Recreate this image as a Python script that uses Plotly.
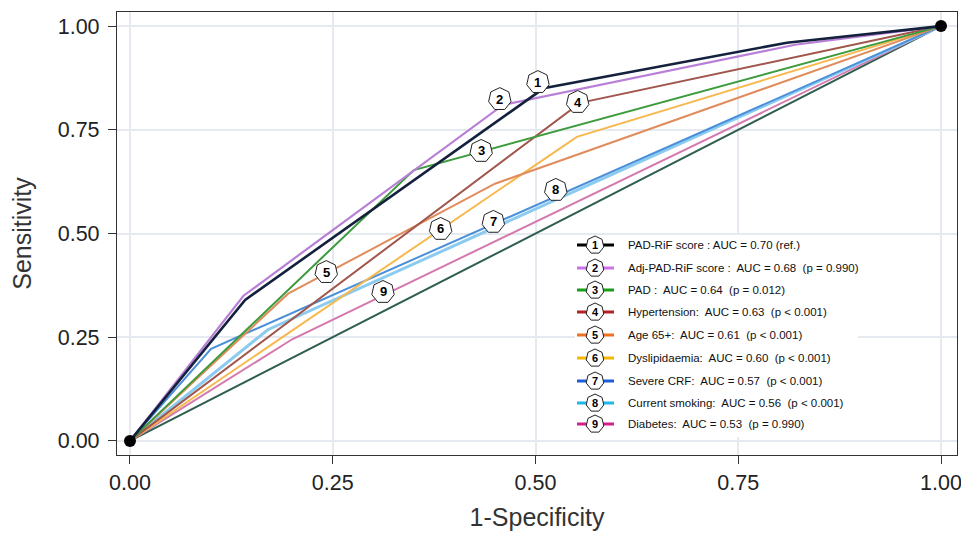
import math
import plotly.graph_objects as go

# ---------------- data ----------------
names = ["PAD-RiF score", "Adj-PAD-RiF score", "PAD", "Hypertension", "Age 65+",
         "Dyslipidaemia", "Severe CRF", "Current smoking", "Diabetes"]
legend_texts = [
    "PAD-RiF score : AUC = 0.70 (ref.)",
    "Adj-PAD-RiF score :  AUC = 0.68  (p = 0.990)",
    "PAD :  AUC = 0.64  (p = 0.012)",
    "Hypertension:  AUC = 0.63  (p < 0.001)",
    "Age 65+:  AUC = 0.61  (p < 0.001)",
    "Dyslipidaemia:  AUC = 0.60  (p < 0.001)",
    "Severe CRF:  AUC = 0.57  (p < 0.001)",
    "Current smoking:  AUC = 0.56  (p < 0.001)",
    "Diabetes:  AUC = 0.53  (p = 0.990)",
]
fpr_1 = [0, 0.142, 0.51, 0.81, 1]
tpr_1 = [0, 0.34, 0.85, 0.96, 1]
fpr_2 = [0, 0.14, 0.46, 0.82, 1]
tpr_2 = [0, 0.35, 0.81, 0.955, 1]
fpr_3 = [0, 0.35, 1]
tpr_3 = [0, 0.653, 1]
fpr_4 = [0, 0.555, 1]
tpr_4 = [0, 0.815, 1]
fpr_5 = [0, 0.195, 0.45, 1]
tpr_5 = [0, 0.355, 0.62, 1]
fpr_6 = [0, 0.551, 1]
tpr_6 = [0, 0.733, 1]
fpr_7 = [0, 0.10, 1]
tpr_7 = [0, 0.222, 1]
fpr_8 = [0, 0.17, 1]
tpr_8 = [0, 0.268, 1]
fpr_9 = [0, 0.20, 1]
tpr_9 = [0, 0.245, 1]
fpr_ref = [0, 1]
tpr_ref = [0, 1]
endpoints_x = [0, 1]
endpoints_y = [0, 1]
x_ticks = [0, 0.25, 0.5, 0.75, 1]
x_tick_labels = ["0.00", "0.25", "0.50", "0.75", "1.00"]
y_ticks = [0, 0.25, 0.5, 0.75, 1]
y_tick_labels = ["0.00", "0.25", "0.50", "0.75", "1.00"]
# curve label (numbered badge) positions in data space
label_x = [0.503, 0.456, 0.433, 0.552, 0.242, 0.383, 0.448, 0.525, 0.312]
label_y = [0.865, 0.824, 0.699, 0.817, 0.407, 0.511, 0.528, 0.605, 0.359]

fprs = [fpr_1, fpr_2, fpr_3, fpr_4, fpr_5, fpr_6, fpr_7, fpr_8, fpr_9]
tprs = [tpr_1, tpr_2, tpr_3, tpr_4, tpr_5, tpr_6, tpr_7, tpr_8, tpr_9]

# ---------------- styles ----------------
line_colors = ["#14213D", "#B77FD6", "#3C9B3C", "#A0564C", "#E08C5C",
               "#F7B84E", "#4A8FDA", "#8CCBF0", "#D479AE"]
line_widths = [2.6, 2.2, 2.0, 2.0, 2.0, 2.0, 2.0, 3.0, 2.0]
legend_colors = ["#000000", "#D070E8", "#18A018", "#B22222", "#F07020",
                 "#F8B800", "#1E5FD8", "#20B8E8", "#D0208A"]
ref_color = "#2E5E50"
FONT = "Liberation Sans, Arial, sans-serif"

W, H = 969, 535
BODY = 8  # default page margin of the html body
# frame of the plot area as seen in the window
FL, FR, FT, FB = 117, 957, 12, 455
ML, MT = FL - BODY, FT - BODY
PW, PH = FR - FL, FB - FT
MR, MB = W - ML - PW, H - MT - PH


def px_to_paper(px, py):
    return (px - FL) / PW, (FB - py) / PH


def heptagon_path(r):
    pts = []
    for k in range(7):
        a = math.pi / 2 + 2 * math.pi * k / 7
        pts.append((r * math.cos(a), r * math.sin(a)))
    return "M " + " L ".join(f"{x:.2f},{y:.2f}" for x, y in pts) + " Z"


fig = go.Figure()

fig.add_trace(go.Scatter(x=fpr_ref, y=tpr_ref, mode="lines",
                         line=dict(color=ref_color, width=2), showlegend=False,
                         hoverinfo="skip"))
for i in reversed(range(len(names))):
    fig.add_trace(go.Scatter(x=fprs[i], y=tprs[i], mode="lines", name=names[i],
                             line=dict(color=line_colors[i], width=line_widths[i]),
                             showlegend=False))
fig.add_trace(go.Scatter(x=endpoints_x, y=endpoints_y, mode="markers",
                         marker=dict(color="black", size=12), showlegend=False,
                         cliponaxis=False))

shapes = []
annotations = []
hp = heptagon_path(11.5)
for i in range(len(names)):
    shapes.append(dict(type="path", xref="x", yref="y", xsizemode="pixel",
                       ysizemode="pixel", xanchor=label_x[i], yanchor=label_y[i],
                       path=hp, fillcolor="white", line=dict(color="#222", width=1),
                       layer="above"))
    annotations.append(dict(x=label_x[i], y=label_y[i], xref="x", yref="y",
                            text=f"<b>{i + 1}</b>", showarrow=False,
                            font=dict(family=FONT, size=13, color="black"),
                            xanchor="center", yanchor="middle"))

# custom legend box
bx0, by0 = px_to_paper(575, 437)
bx1, by1 = px_to_paper(858, 235)
shapes.append(dict(type="rect", xref="paper", yref="paper", x0=bx0, y0=by0,
                   x1=bx1, y1=by1, fillcolor="white", line=dict(width=0),
                   layer="above"))
row_y = [245, 268, 290, 312, 335, 358, 381, 403, 424]
hp_leg = heptagon_path(9)
for i in range(len(names)):
    lx0, ly = px_to_paper(577, row_y[i])
    lx1, _ = px_to_paper(614, row_y[i])
    cx, _ = px_to_paper(595, row_y[i])
    tx, _ = px_to_paper(626, row_y[i])
    shapes.append(dict(type="line", xref="paper", yref="paper", x0=lx0, x1=lx1,
                       y0=ly, y1=ly, line=dict(color=legend_colors[i], width=3),
                       layer="above"))
    shapes.append(dict(type="path", xref="paper", yref="paper", xsizemode="pixel",
                       ysizemode="pixel", xanchor=cx, yanchor=ly, path=hp_leg,
                       fillcolor="white", line=dict(color="#222", width=1),
                       layer="above"))
    annotations.append(dict(x=cx, y=ly, xref="paper", yref="paper",
                            text=f"<b>{i + 1}</b>", showarrow=False,
                            font=dict(family=FONT, size=11, color="black"),
                            xanchor="center", yanchor="middle"))
    annotations.append(dict(x=tx, y=ly, xref="paper", yref="paper",
                            text=legend_texts[i], showarrow=False,
                            font=dict(family=FONT, size=11.5, color="#111"),
                            xanchor="left", yanchor="middle"))

axis_common = dict(showline=True, mirror=True, linecolor="#333", linewidth=1.2,
                   ticks="outside", ticklen=8, tickcolor="#333", tickwidth=1.2,
                   showgrid=True, gridcolor="#E4EAF0", gridwidth=1.5,
                   zeroline=False, automargin=False,
                   tickfont=dict(family=FONT, size=21.5, color="#222"))

fig.update_layout(
    width=W, height=H,
    margin=dict(l=ML, r=MR, t=MT, b=MB, autoexpand=False),
    paper_bgcolor="white", plot_bgcolor="white",
    shapes=shapes, annotations=annotations,
    xaxis=dict(range=[-0.016, 1.0197], tickvals=x_ticks, ticktext=x_tick_labels,
               title=dict(text="1-Specificity", font=dict(family=FONT, size=25, color="#333"),
                          standoff=14),
               **axis_common),
    yaxis=dict(range=[-0.034, 1.034], tickvals=y_ticks, ticktext=y_tick_labels,
               title=dict(text="Sensitivity", font=dict(family=FONT, size=25, color="#333"),
                          standoff=20),
               ticklabelstandoff=4,
               **axis_common),
)

fig.write_html("out.html")
